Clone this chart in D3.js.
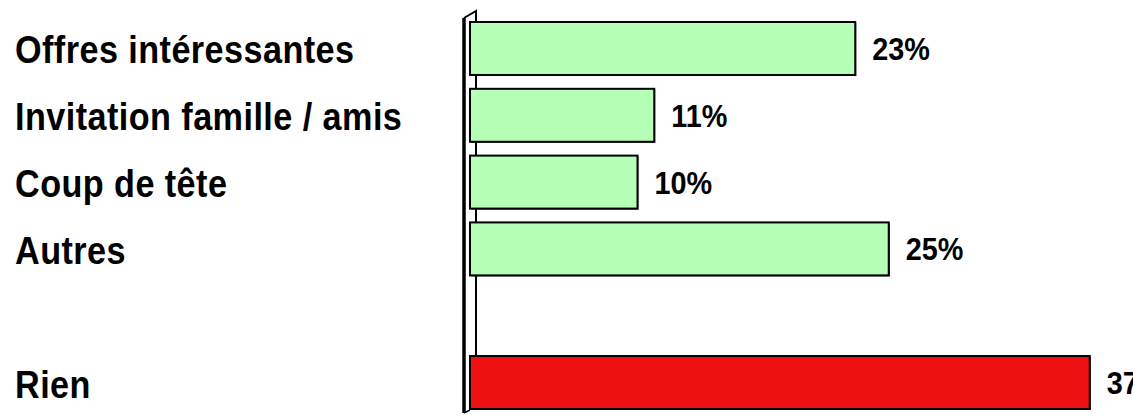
<!DOCTYPE html>
<html>
<head>
<meta charset="utf-8">
<script src="https://cdn.jsdelivr.net/npm/d3@7"></script>
<style>
  html, body { margin: 0; padding: 0; background: #fff; }
  svg { display: block; }
</style>
</head>
<body>
<svg id="chart" width="1133" height="415"></svg>
<script>
const categories = ["Offres intéressantes", "Invitation famille / amis", "Coup de tête", "Autres", "", "Rien"];
const values = [23, 11, 10, 25, null, 37];
const valueLabels = ["23%", "11%", "10%", "25%", "", "37%"];
const barColors = ["#b6ffb6", "#b6ffb6", "#b6ffb6", "#b6ffb6", "#b6ffb6", "#ee1111"];

const keys = categories.map((c, i) => i);

const fontFamily = '"Liberation Sans", Arial, sans-serif';
const squeeze = 0.9;

const svg = d3.select("#chart");

const x = d3.scaleLinear().domain([0, 40]).range([470, 1140]);
const y = d3.scaleBand().domain(keys).range([22, 409]).paddingInner(0.207).paddingOuter(0);

// wall (3D axis)
const yTop = y.range()[0], yBottom = y.range()[1];
const wx = x(0);
svg.append("path")
  .attr("d", `M${wx - 6},${yTop - 4} L${wx + 6},${yTop - 11} L${wx + 6},${yBottom}`)
  .attr("fill", "none").attr("stroke", "#000").attr("stroke-width", 2);
svg.append("path")
  .attr("d", `M${wx - 6},${yTop - 4} L${wx - 6},${yBottom + 4}`)
  .attr("fill", "none").attr("stroke", "#000").attr("stroke-width", 3.5);
svg.append("path")
  .attr("d", `M${wx - 6},${yBottom + 4} L${wx},${yBottom + 1}`)
  .attr("fill", "none").attr("stroke", "#000").attr("stroke-width", 1.5);

const data = keys.filter(i => values[i] != null);

// shadows
svg.append("g").selectAll("rect").data(data).join("rect")
  .attr("x", i => x(0) + 1)
  .attr("y", i => y(i) + 1)
  .attr("width", i => x(values[i]) - x(0))
  .attr("height", y.bandwidth())
  .attr("fill", "#333");

svg.append("g").selectAll("rect").data(data).join("rect")
  .attr("x", i => x(0))
  .attr("y", i => y(i))
  .attr("width", i => x(values[i]) - x(0))
  .attr("height", y.bandwidth())
  .attr("fill", i => barColors[i])
  .attr("stroke", "#000").attr("stroke-width", 2);

// value labels
svg.append("g").selectAll("text").data(data).join("text")
  .attr("transform", i => `translate(${x(values[i]) + 17},${y(i) + y.bandwidth() / 2 + 11.5}) scale(${squeeze},1)`)
  .attr("font-family", fontFamily)
  .attr("font-weight", "bold")
  .attr("font-size", 32)
  .attr("fill", "#000")
  .text(i => valueLabels[i]);

// category labels
svg.append("g").selectAll("text").data(keys.filter(i => categories[i] !== "")).join("text")
  .attr("transform", i => `translate(15,${y(i) + y.bandwidth() / 2 + 15}) scale(${squeeze},1)`)
  .attr("font-family", fontFamily)
  .attr("font-weight", "bold")
  .attr("font-size", 38)
  .attr("letter-spacing", 0.5)
  .attr("fill", "#000")
  .text(i => categories[i]);
</script>
</body>
</html>
